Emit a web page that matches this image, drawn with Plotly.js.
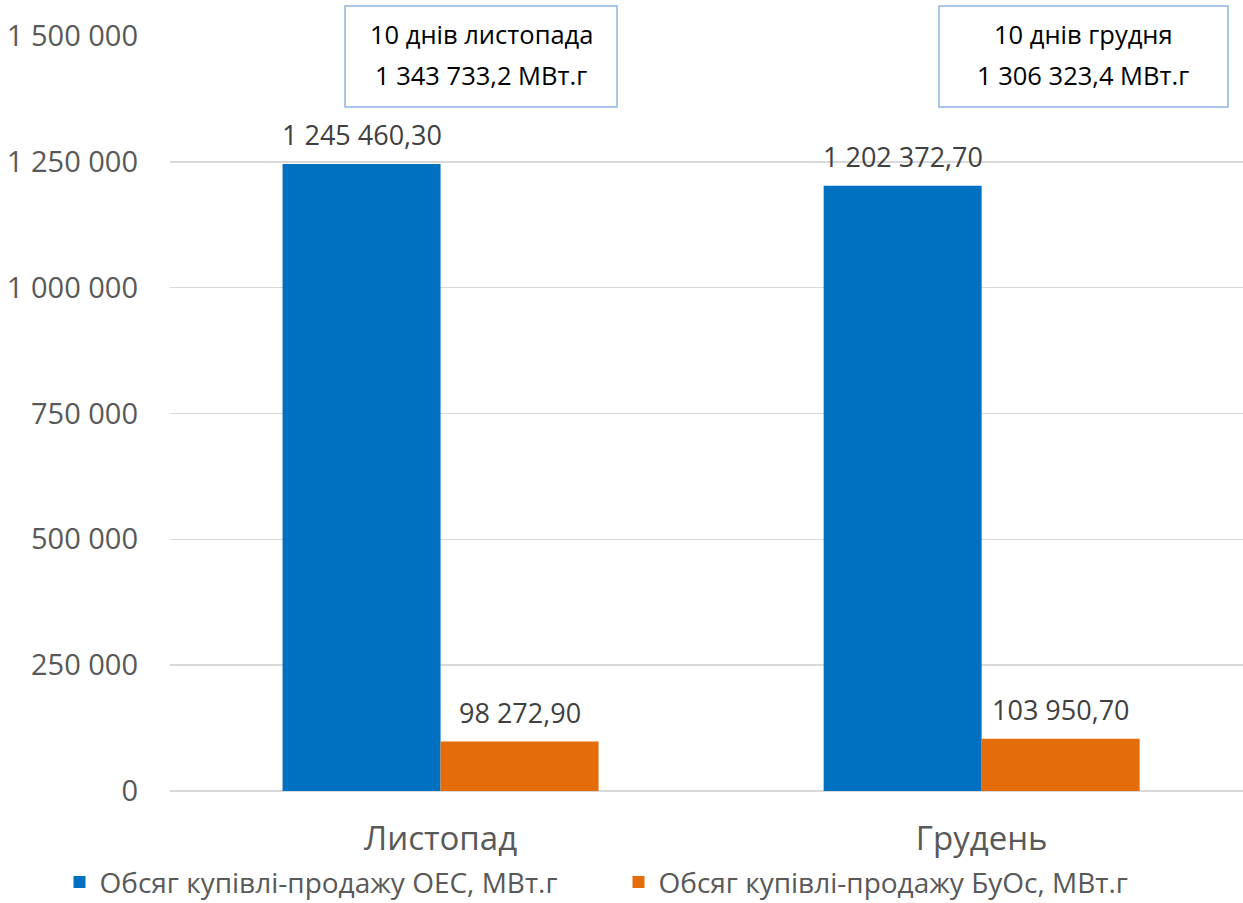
<!DOCTYPE html>
<html>
<head>
<meta charset="utf-8">
<script src="https://cdn.plot.ly/plotly-3.0.1.min.js"></script>
<style>html,body{margin:0;padding:0;background:#fff;}#chart{width:1243px;height:903px;}</style>
</head>
<body>
<div id="chart"></div>
<script>
const categories = ["Листопад", "Грудень"];
const seriesNames = ["Обсяг купівлі-продажу ОЕС, МВт.г", "Обсяг купівлі-продажу БуОс, МВт.г"];
const oesValues = [1245460.30, 1202372.70];
const buosValues = [98272.90, 103950.70];
const boxTitles = ["10 днів листопада", "10 днів грудня"];
const boxTotals = ["1 343 733,2 МВт.г", "1 306 323,4 МВт.г"];
const yTickValues = [0, 250000, 500000, 750000, 1000000, 1250000, 1500000];

const FONT = "'Open Sans', 'Noto Sans', sans-serif";
const colors = ["#0070C0", "#E46C0A"];

function fmt(v) {
  const parts = v.toFixed(2).split(".");
  const intPart = parts[0].replace(/\B(?=(\d{3})+(?!\d))/g, " ");
  return intPart + "," + parts[1];
}

const traces = [
  {type: "bar", name: seriesNames[0], x: categories, y: oesValues, marker: {color: colors[0]}, hoverinfo: "none"},
  {type: "bar", name: seriesNames[1], x: categories, y: buosValues, marker: {color: colors[1]}, hoverinfo: "none"}
];

const barShift = 79;
const annotations = [];
[oesValues, buosValues].forEach((vals, si) => {
  vals.forEach((v, ci) => {
    annotations.push({
      x: categories[ci], y: v, xref: "x", yref: "y",
      text: fmt(v), showarrow: false, yanchor: "bottom", xanchor: "center",
      xshift: si === 0 ? -barShift : barShift, yshift: 9,
      font: {family: FONT, size: 27, color: "#404040"}
    });
  });
});

const boxX = [[0.1631, 0.4166], [0.7167, 0.986]];
const shapes = [];
boxX.forEach((bx, i) => {
  shapes.push({type: "rect", xref: "paper", yref: "paper", x0: bx[0], x1: bx[1], y0: 0.906, y1: 1.0397,
    line: {color: "#8EB4E3", width: 1.5}, fillcolor: "rgba(0,0,0,0)", layer: "above"});
  const cx = (bx[0] + bx[1]) / 2;
  annotations.push({x: cx, y: 1.002, xref: "paper", yref: "paper", text: boxTitles[i], showarrow: false,
    xanchor: "center", yanchor: "middle", font: {family: FONT, size: 25.5, color: "#000000"}});
  annotations.push({x: cx, y: 0.949, xref: "paper", yref: "paper", text: boxTotals[i], showarrow: false,
    xanchor: "center", yanchor: "middle", font: {family: FONT, size: 25.5, color: "#000000"}});
});

const layout = {
  width: 1243, height: 903,
  margin: {l: 170, r: 0, t: 36, b: 112, autoexpand: false},
  paper_bgcolor: "#ffffff", plot_bgcolor: "#ffffff",
  barmode: "group", bargap: 0.416, bargroupgap: 0,
  font: {family: FONT, color: "#595959"},
  xaxis: {
    type: "category", range: [-0.5, 1.483], showgrid: false, showline: false, zeroline: false,
    ticks: "", tickfont: {family: FONT, size: 33, color: "#595959"}, ticklabelstandoff: 25, fixedrange: true
  },
  yaxis: {
    range: [0, 1500000], tickvals: yTickValues, ticktext: yTickValues.map(v => v === 0 ? "0" : String(v).replace(/\B(?=(\d{3})+(?!\d))/g, " ")),
    showgrid: true, gridcolor: "#D9D9D9", gridwidth: 1.5, zeroline: true, zerolinecolor: "#D9D9D9", zerolinewidth: 1.5,
    showline: false, ticks: "", tickfont: {family: FONT, size: 29, color: "#595959"}, ticklabelstandoff: 31, fixedrange: true
  },
  showlegend: true,
  legend: {
    orientation: "h", x: -0.103, xanchor: "left", y: -0.121, yanchor: "middle",
    font: {family: FONT, size: 28, color: "#595959"}, entrywidth: 514, entrywidthmode: "pixels",
    itemwidth: 30, bgcolor: "rgba(0,0,0,0)"
  },
  annotations: annotations,
  shapes: shapes
};

Plotly.newPlot("chart", traces, layout, {displayModeBar: false, staticPlot: true});
</script>
</body>
</html>
